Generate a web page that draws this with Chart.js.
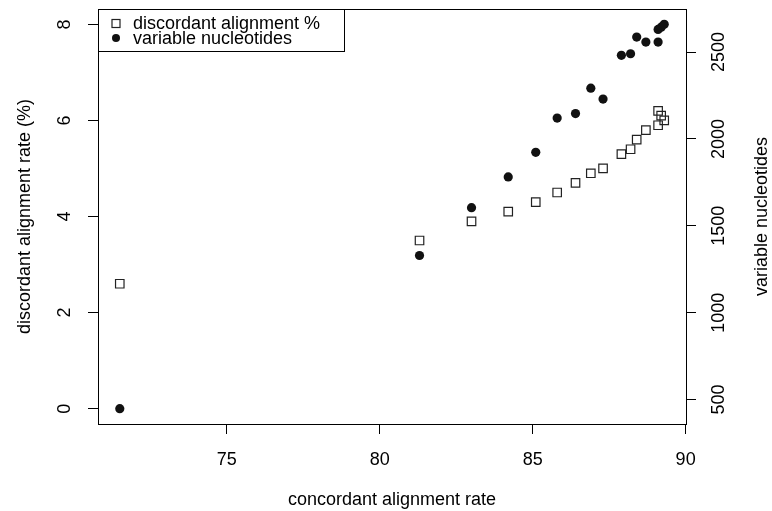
<!DOCTYPE html>
<html>
<head>
<meta charset="utf-8">
<script src="https://cdn.jsdelivr.net/npm/chart.js@4/dist/chart.umd.min.js"></script>
<style>
  html, body { margin: 0; padding: 0; background: #fff; }
  #wrap { width: 772px; height: 511px; }
</style>
</head>
<body>
<div id="wrap"><canvas id="chart" width="772" height="511"></canvas></div>
<script>
// one entry per sample
const concordant = [71.5, 81.3, 83.0, 84.2, 85.1, 85.8, 86.4, 86.9, 87.3, 87.9, 88.2, 88.4, 88.7, 89.1, 89.1, 89.2, 89.3];
const discordant = [2.6, 3.5, 3.9, 4.1, 4.3, 4.5, 4.7, 4.9, 5.0, 5.3, 5.4, 5.6, 5.8, 5.9, 6.2, 6.1, 6.0];
const variableNuc = [448, 1329, 1604, 1781, 1923, 2120, 2146, 2292, 2229, 2481, 2490, 2586, 2557, 2557, 2630, 2643, 2659];

const xTicks = [75, 80, 85, 90];
const leftTicks = [0, 2, 4, 6, 8];
const rightTicks = [500, 1000, 1500, 2000, 2500];

const FAMILY = '"Liberation Sans", Arial, Helvetica, sans-serif';
const FONT = '18px ' + FAMILY;

// R pads each axis by 4% of the data range
function rRange(lo, hi) {
  const d = (hi - lo) * 0.04;
  return [lo - d, hi + d];
}
const xLim = rRange(Math.min(...concordant), Math.max(...concordant));
const yLim = rRange(0, 8);
const y2Lim = rRange(Math.min(...variableNuc), Math.max(...variableNuc));

const tickGrid = { drawOnChartArea: false, drawTicks: true, tickLength: 10, color: '#000', lineWidth: 1 };

// box, rotated y labels and the legend, R style
const rStyle = {
  id: 'rStyle',
  afterDraw(chart) {
    const { ctx, chartArea: a, scales } = chart;
    ctx.save();
    ctx.strokeStyle = '#000';
    ctx.lineWidth = 1;
    ctx.strokeRect(Math.round(a.left) + 0.5, Math.round(a.top) + 0.5,
      Math.round(a.right - a.left), Math.round(a.bottom - a.top));

    ctx.fillStyle = '#000';
    ctx.font = FONT;
    ctx.textAlign = 'center';
    ctx.textBaseline = 'middle';
    const rot = (text, x, y) => {
      ctx.save();
      ctx.translate(x, y);
      ctx.rotate(-Math.PI / 2);
      ctx.fillText(text, 0, 0);
      ctx.restore();
    };
    scales.y.ticks.forEach(t => rot(String(t.value), 65, scales.y.getPixelForValue(t.value)));
    scales.y2.ticks.forEach(t => rot(String(t.value), 719, scales.y2.getPixelForValue(t.value)));
    const midY = (a.top + a.bottom) / 2;
    rot('discordant alignment rate (%)', 25, midY);
    rot('variable nucleotides', 762, midY);

    // legend in the top left corner
    const lx = Math.round(a.left), ly = Math.round(a.top);
    ctx.fillStyle = '#fff';
    ctx.fillRect(lx, ly, 246, 42);
    ctx.strokeRect(lx + 0.5, ly + 0.5, 246, 42);
    ctx.strokeStyle = '#222';
    ctx.lineWidth = 1.2;
    ctx.strokeRect(lx + 14, ly + 10.5, 8, 8);
    ctx.fillStyle = '#111';
    ctx.beginPath();
    ctx.arc(lx + 18, ly + 29, 4, 0, Math.PI * 2);
    ctx.fill();
    ctx.fillStyle = '#000';
    ctx.textAlign = 'left';
    ctx.textBaseline = 'alphabetic';
    ctx.fillText('discordant alignment %', lx + 35, ly + 20);
    ctx.fillText('variable nucleotides', lx + 35, ly + 35);
    ctx.restore();
  }
};

new Chart(document.getElementById('chart'), {
  type: 'scatter',
  data: {
    datasets: [
      {
        label: 'discordant alignment %',
        data: concordant.map((x, i) => ({ x: x, y: discordant[i] })),
        yAxisID: 'y',
        pointStyle: 'rect',
        pointRadius: 6,
        pointBorderWidth: 1.2,
        borderColor: '#222',
        backgroundColor: 'rgba(0,0,0,0)'
      },
      {
        label: 'variable nucleotides',
        data: concordant.map((x, i) => ({ x: x, y: variableNuc[i] })),
        yAxisID: 'y2',
        pointStyle: 'circle',
        pointRadius: 4.6,
        pointBorderWidth: 0,
        borderColor: '#111',
        backgroundColor: '#111'
      }
    ]
  },
  options: {
    responsive: false,
    animation: false,
    layout: { padding: { top: 9, left: 0, right: 0, bottom: 0 } },
    plugins: { legend: { display: false }, tooltip: { enabled: false } },
    scales: {
      x: {
        type: 'linear',
        position: 'bottom',
        min: xLim[0],
        max: xLim[1],
        afterBuildTicks: s => { s.ticks = xTicks.map(v => ({ value: v })); },
        afterFit: s => { s.height = 87; },
        grid: tickGrid,
        border: { display: false },
        ticks: { color: '#000', font: { family: FAMILY, size: 18 }, padding: 15, maxRotation: 0 },
        title: {
          display: true,
          text: 'concordant alignment rate',
          color: '#000',
          font: { family: FAMILY, size: 18 },
          padding: { top: 0, bottom: 0 }
        }
      },
      y: {
        type: 'linear',
        position: 'left',
        min: yLim[0],
        max: yLim[1],
        afterBuildTicks: s => { s.ticks = leftTicks.map(v => ({ value: v })); },
        afterFit: s => { s.width = 98; },
        grid: tickGrid,
        border: { display: false },
        ticks: { display: false }
      },
      y2: {
        type: 'linear',
        position: 'right',
        min: y2Lim[0],
        max: y2Lim[1],
        afterBuildTicks: s => { s.ticks = rightTicks.map(v => ({ value: v })); },
        afterFit: s => { s.width = 86; },
        grid: tickGrid,
        border: { display: false },
        ticks: { display: false }
      }
    }
  },
  plugins: [rStyle]
});
</script>
</body>
</html>
